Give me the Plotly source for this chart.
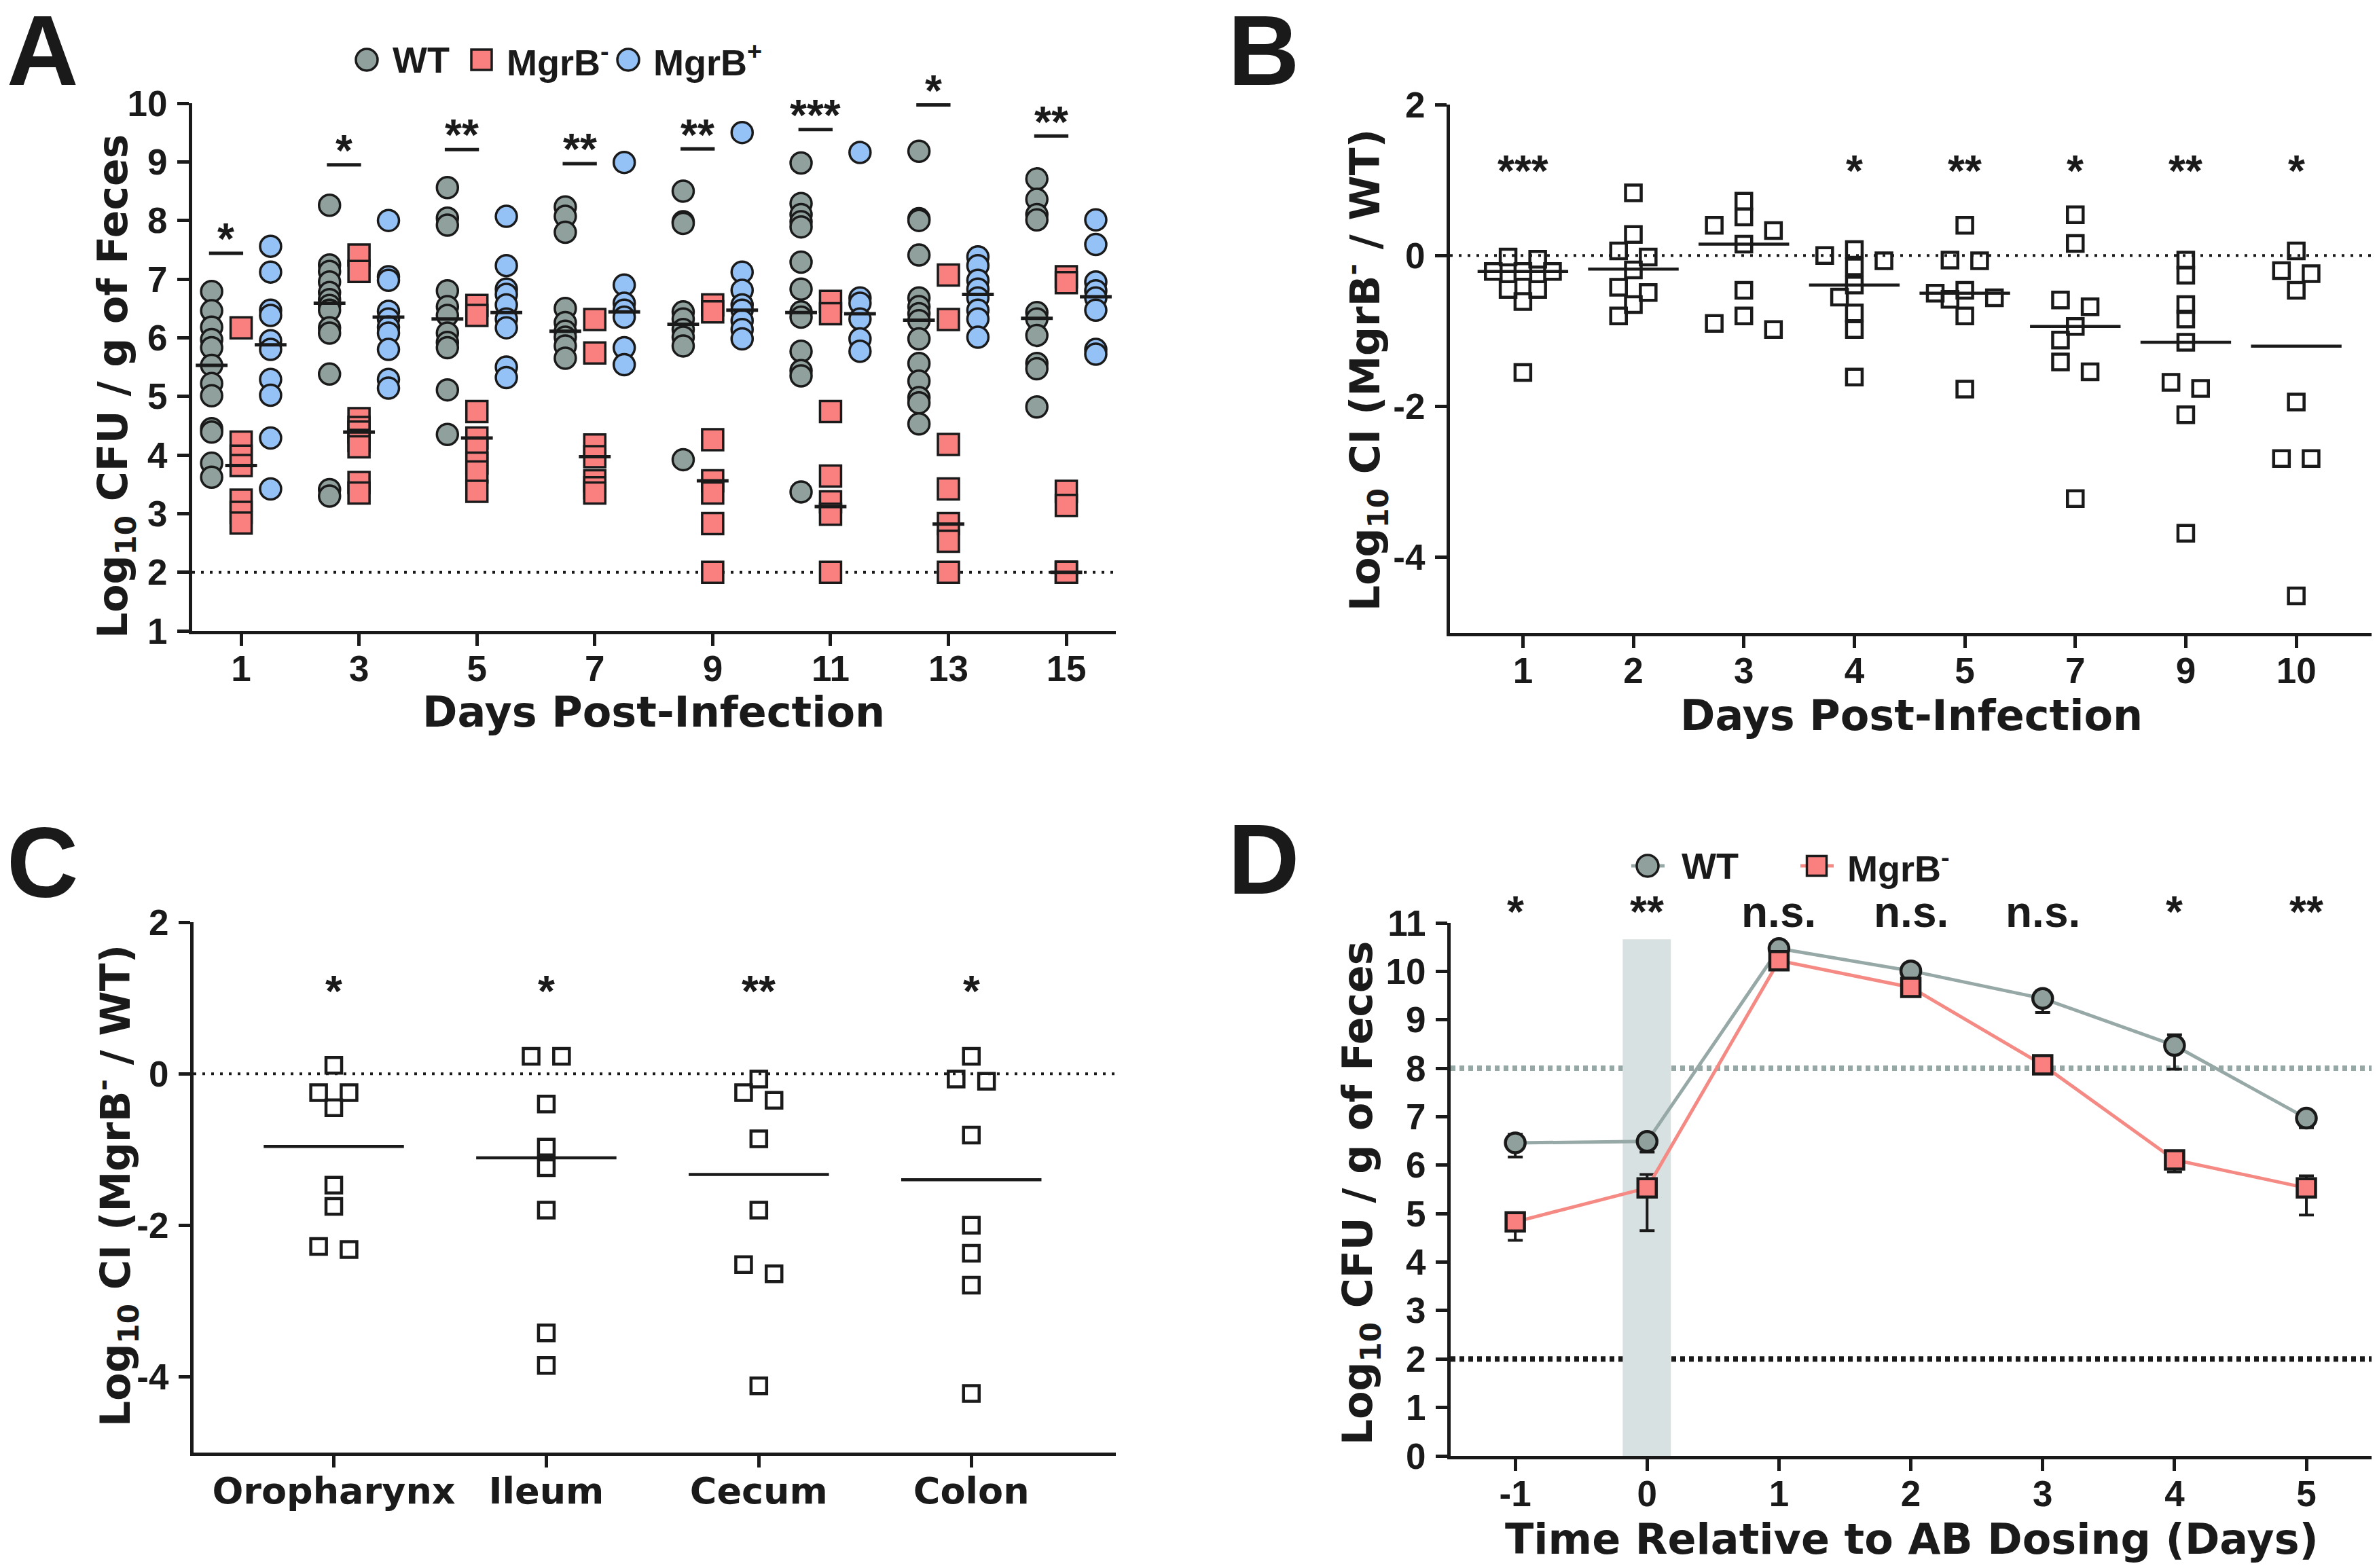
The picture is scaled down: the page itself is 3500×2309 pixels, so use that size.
import plotly.graph_objects as go

W, H = 3500, 2309
PAGE_OFFSET = 8  # default body margin of the html page
INK = "#1a1a1a"
WT_FILL = "#8fa09d"
NEG_FILL = "#fa8080"
POS_FILL = "#94c1f6"
WT_LINE = "#97a9a6"
NEG_LINE = "#f58a84"
BAND = "#d8e1e1"

# ---------------- Panel A data (Log10 CFU / g feces) ----------------
a_days = [1, 3, 5, 7, 9, 11, 13, 15]
a_wt = [
    [6.79, 6.46, 6.18, 5.97, 5.83, 5.53, 5.22, 5.01, 4.45, 4.39, 3.86, 3.62],
    [8.26, 7.24, 7.13, 6.95, 6.77, 6.65, 6.55, 6.47, 6.17, 6.08, 5.38, 3.41, 3.30],
    [8.56, 8.04, 7.92, 6.80, 6.53, 6.38, 6.08, 5.92, 5.83, 5.11, 4.35],
    [8.23, 8.07, 7.80, 6.50, 6.26, 6.11, 6.01, 5.86, 5.65],
    [8.50, 7.98, 7.95, 6.44, 6.32, 6.14, 6.01, 5.86, 3.92],
    [8.98, 8.29, 8.10, 7.98, 7.89, 7.29, 6.83, 6.44, 6.35, 5.77, 5.44, 5.35, 3.37],
    [9.18, 8.03, 8.00, 7.41, 6.68, 6.53, 6.41, 6.29, 5.98, 5.56, 5.26, 4.98, 4.89, 4.53],
    [8.71, 8.36, 8.10, 8.01, 6.43, 6.32, 6.04, 5.56, 5.47, 4.82],
]
a_neg = [
    [6.17, 4.22, 3.98, 3.82, 3.23, 3.02, 2.84],
    [7.41, 7.13, 4.62, 4.47, 4.39, 4.25, 4.14, 3.53, 3.35],
    [6.55, 6.38, 4.74, 4.29, 4.11, 3.86, 3.71, 3.38],
    [6.31, 5.74, 4.17, 3.97, 3.56, 3.44, 3.35],
    [6.56, 6.44, 4.26, 3.56, 3.35, 2.83, 2.00],
    [6.62, 6.41, 4.74, 3.64, 3.20, 2.99, 2.00],
    [7.07, 6.31, 4.18, 3.42, 2.83, 2.53, 2.00],
    [7.04, 6.94, 3.38, 3.14, 2.00, 2.00, 2.00],
]
a_pos = [
    [7.56, 7.12, 6.47, 6.38, 5.95, 5.80, 5.29, 5.02, 4.29, 3.42],
    [8.00, 7.04, 6.98, 6.45, 6.32, 6.18, 6.08, 5.80, 5.29, 5.14],
    [8.07, 7.23, 6.83, 6.74, 6.56, 6.32, 6.17, 5.50, 5.32],
    [8.99, 6.90, 6.59, 6.47, 6.35, 5.83, 5.54],
    [9.50, 7.12, 6.81, 6.56, 6.47, 6.29, 6.14, 5.98],
    [9.16, 6.68, 6.59, 6.32, 5.98, 5.77],
    [7.38, 7.23, 6.98, 6.83, 6.68, 6.47, 6.32, 6.01],
    [8.01, 7.59, 6.95, 6.80, 6.68, 6.47, 5.80, 5.72],
]
a_wt_median = [5.53, 6.59, 6.32, 6.11, 6.23, 6.43, 6.30, 6.33]
a_neg_median = [3.82, 4.39, 4.29, 3.97, 3.56, 3.12, 2.82, 2.00]
a_pos_median = [5.88, 6.35, 6.43, 6.44, 6.47, 6.41, 6.74, 6.70]
a_sig_y = [7.44, 8.95, 9.21, 8.97, 9.22, 9.55, 9.97, 9.44]
a_sig_text = ["*", "*", "**", "**", "**", "***", "*", "**"]
a_lod = 2

# ---------------- Panel B data (Log10 CI, MgrB- / WT) ----------------
b_days = ["1", "2", "3", "4", "5", "7", "9", "10"]
b_ci = [
    [-0.02, -0.05, -0.21, -0.21, -0.21, -0.45, -0.45, -0.61, -1.55],
    [0.83, 0.28, 0.06, -0.02, -0.19, -0.42, -0.49, -0.65, -0.80],
    [0.72, 0.51, 0.40, 0.33, 0.15, -0.46, -0.80, -0.90, -0.98],
    [0.08, 0.00, -0.07, -0.15, -0.39, -0.55, -0.76, -0.98, -1.61],
    [0.40, -0.06, -0.07, -0.46, -0.50, -0.56, -0.58, -0.80, -1.77],
    [0.54, 0.16, -0.59, -0.68, -0.94, -1.12, -1.41, -1.54, -3.22],
    [-0.06, -0.26, -0.65, -0.84, -1.15, -1.68, -1.76, -2.11, -3.68],
    [0.06, -0.20, -0.24, -0.46, -1.94, -2.69, -2.69, -4.51],
]
b_median = [-0.21, -0.18, 0.15, -0.39, -0.50, -0.94, -1.15, -1.20]
b_sig_text = ["***", "", "", "*", "**", "*", "**", "*"]
b_sig_y = 1.24

# ---------------- Panel C data (Log10 CI by site) ----------------
c_sites = ["Oropharynx", "Ileum", "Cecum", "Colon"]
c_ci = [
    [0.11, -0.25, -0.25, -0.45, -1.47, -1.75, -2.28, -2.32],
    [0.23, 0.23, -0.40, -0.97, -1.24, -1.80, -3.42, -3.85],
    [-0.07, -0.25, -0.35, -0.86, -1.80, -2.52, -2.64, -4.12],
    [0.23, -0.07, -0.10, -0.81, -2.00, -2.37, -2.79, -4.22],
]
c_median = [-0.96, -1.11, -1.33, -1.40]
c_sig_text = ["*", "*", "**", "*"]
c_sig_y = 1.21

# ---------------- Panel D data (mean, error bars) ----------------
d_time = [-1, 0, 1, 2, 3, 4, 5]
d_wt_mean = [6.46, 6.49, 10.47, 10.01, 9.44, 8.47, 6.97]
d_wt_err_plus = [0.18, 0.10, 0.05, 0.05, 0.16, 0.22, 0.05]
d_wt_err_minus = [0.29, 0.22, 0.05, 0.05, 0.29, 0.49, 0.20]
d_neg_mean = [4.83, 5.53, 10.22, 9.67, 8.07, 6.11, 5.53]
d_neg_err_plus = [0.18, 0.28, 0.05, 0.05, 0.05, 0.10, 0.25]
d_neg_err_minus = [0.38, 0.88, 0.05, 0.05, 0.05, 0.25, 0.56]
d_sig_text = ["*", "**", "n.s.", "n.s.", "n.s.", "*", "**"]
d_sig_y = 11.2
d_threshold = 8
d_lod = 2
d_dose_window = [-0.185, 0.18]
d_dose_top = 10.66

# ---------------- layout geometry (pixels) ----------------
A_X, A_Y = (283, 1643), (152, 929)
B_X, B_Y = (2135, 3495), (154, 932)
C_X, C_Y = (285, 1643), (1358, 2139)
D_X, D_Y = (2136, 3497), (1359, 2144)
A_RX, A_RY = [0.17, 15.84], [1, 10]
B_RX, B_RY = [-0.66, 7.7], [-5, 2]
C_RX, C_RY = [-0.66, 3.68], [-5, 2]
D_RX, D_RY = [-1.49, 5.52], [0, 11]


def fx(p):
    return (p - PAGE_OFFSET) / W


def fy(p):
    return 1 - (p - PAGE_OFFSET) / H


def xdom(px):
    return [fx(px[0]), fx(px[1])]


def ydom(py):
    return [fy(py[1]), fy(py[0])]


def swarm(vals, h, m, t, maxrow=3):
    """GraphPad-like horizontal spreading of points with similar values."""
    order = sorted(range(len(vals)), key=lambda i: -vals[i])
    rows = []
    for i in order:
        if rows and len(rows[-1]) < maxrow and vals[rows[-1][-1]] - vals[i] <= t:
            rows[-1].append(i)
        else:
            rows.append([i])
    offs = [0.0] * len(vals)
    placed = []
    for row in rows:
        n = len(row)
        ks = [0] if n == 1 else ([-1, 1] if n == 2 else [0, -2, 2])
        chosen = 0
        for shift in [0, -1, 1, -2, 2]:
            ok = True
            for i, k in zip(row, ks):
                for pv, pk in placed:
                    if abs(vals[i] - pv) < m and abs(k + shift - pk) < 1:
                        ok = False
            if ok:
                chosen = shift
                break
        for i, k in zip(row, ks):
            offs[i] = (k + chosen) * h
            placed.append((vals[i], k + chosen))
    return offs


def hlines(centers, ys, half):
    xs, yy = [], []
    for c, y in zip(centers, ys):
        xs += [c - half, c + half, None]
        yy += [y, y, None]
    return xs, yy


fig = go.Figure()

mline = dict(width=3.5, color=INK)

# ---- Panel A ----
groups = [(a_wt, -0.5, "circle", WT_FILL),
          (a_neg, 0.0, "square", NEG_FILL),
          (a_pos, 0.5, "circle", POS_FILL)]
for vals, off, sym, fill in groups:
    xs, ys = [], []
    for d, v in zip(a_days, vals):
        xs += [d + off] * len(v)
        ys += v
    fig.add_trace(go.Scatter(x=xs, y=ys, mode="markers", xaxis="x", yaxis="y",
                             marker=dict(symbol=sym, size=31, color=fill, line=mline),
                             showlegend=False, cliponaxis=False))
for off, med in [(-0.5, a_wt_median), (0.0, a_neg_median), (0.5, a_pos_median)]:
    xs, ys = hlines([d + off for d in a_days], med, 0.27)
    fig.add_trace(go.Scatter(x=xs, y=ys, mode="lines", xaxis="x", yaxis="y",
                             line=dict(color=INK, width=5), showlegend=False, cliponaxis=False))
xs, ys = hlines([d - 0.255 for d in a_days], a_sig_y, 0.29)
fig.add_trace(go.Scatter(x=xs, y=ys, mode="lines", xaxis="x", yaxis="y",
                         line=dict(color=INK, width=5), showlegend=False, cliponaxis=False))

# ---- Panel B ----
b_pxu_x = (B_X[1] - B_X[0]) / (B_RX[1] - B_RX[0])
b_pxu_y = (B_Y[1] - B_Y[0]) / (B_RY[1] - B_RY[0])
xs, ys = [], []
for i, v in enumerate(b_ci):
    offs = swarm(v, 21.8 / b_pxu_x, 21.0 / b_pxu_y, 14.5 / b_pxu_y)
    xs += [i + o for o in offs]
    ys += v
fig.add_trace(go.Scatter(x=xs, y=ys, mode="markers", xaxis="x2", yaxis="y2",
                         marker=dict(symbol="square-open", size=23, color=INK,
                                     line=dict(width=4.5, color=INK)),
                         showlegend=False, cliponaxis=False))
xs, ys = hlines(list(range(len(b_days))), b_median, 0.41)
fig.add_trace(go.Scatter(x=xs, y=ys, mode="lines", xaxis="x2", yaxis="y2",
                         line=dict(color=INK, width=4.5), showlegend=False))

# ---- Panel C ----
c_pxu_x = (C_X[1] - C_X[0]) / (C_RX[1] - C_RX[0])
c_pxu_y = (C_Y[1] - C_Y[0]) / (C_RY[1] - C_RY[0])
xs, ys = [], []
for i, v in enumerate(c_ci):
    offs = swarm(v, 22.4 / c_pxu_x, 21.0 / c_pxu_y, 14.5 / c_pxu_y)
    xs += [i + o for o in offs]
    ys += v
fig.add_trace(go.Scatter(x=xs, y=ys, mode="markers", xaxis="x3", yaxis="y3",
                         marker=dict(symbol="square-open", size=23, color=INK,
                                     line=dict(width=4.5, color=INK)),
                         showlegend=False, cliponaxis=False))
xs, ys = hlines(list(range(len(c_sites))), c_median, 0.33)
fig.add_trace(go.Scatter(x=xs, y=ys, mode="lines", xaxis="x3", yaxis="y3",
                         line=dict(color=INK, width=4.5), showlegend=False))

# ---- Panel D ----
fig.add_trace(go.Scatter(x=d_time, y=d_wt_mean, mode="lines+markers", xaxis="x4", yaxis="y4",
                         line=dict(color=WT_LINE, width=5),
                         marker=dict(symbol="circle", size=29, color=WT_FILL,
                                     line=dict(width=4.5, color=INK)),
                         error_y=dict(type="data", symmetric=False, array=d_wt_err_plus,
                                      arrayminus=d_wt_err_minus, color=INK, thickness=4, width=11),
                         showlegend=False, cliponaxis=False))
fig.add_trace(go.Scatter(x=d_time, y=d_neg_mean, mode="lines+markers", xaxis="x4", yaxis="y4",
                         line=dict(color=NEG_LINE, width=5),
                         marker=dict(symbol="square", size=27, color=NEG_FILL,
                                     line=dict(width=4.5, color=INK)),
                         error_y=dict(type="data", symmetric=False, array=d_neg_err_plus,
                                      arrayminus=d_neg_err_minus, color=INK, thickness=4, width=11),
                         showlegend=False, cliponaxis=False))

# ---------------- axes ----------------
TICKFONT = dict(family="Liberation Sans", size=53, color=INK, weight="bold")
CATFONT = dict(family="DejaVu Sans", size=54, color=INK, weight="bold")


def axis(dom, rng, anchor, **kw):
    d = dict(domain=dom, range=rng, anchor=anchor, showline=True, linewidth=5, linecolor=INK,
             ticks="outside", ticklen=17, tickwidth=5, tickcolor=INK, showgrid=False,
             zeroline=False, tickfont=TICKFONT, fixedrange=True, automargin=False)
    d.update(kw)
    return d


XSTAND = -12
layout = dict(
    width=W, height=H, margin=dict(l=0, r=0, t=0, b=0, pad=0, autoexpand=False),
    paper_bgcolor="white", plot_bgcolor="white", showlegend=False,
    xaxis=axis(xdom(A_X), A_RX, "y", tickvals=a_days, ticklabelstandoff=XSTAND),
    yaxis=axis(ydom(A_Y), A_RY, "x", dtick=1, tick0=0, ticklabelstandoff=4),
    xaxis2=axis(xdom(B_X), B_RX, "y2", tickvals=list(range(len(b_days))), ticktext=b_days,
                ticklabelstandoff=XSTAND),
    yaxis2=axis(ydom(B_Y), B_RY, "x2", tickvals=[2, 0, -2, -4], ticktext=["2", "0", "-2", "-4"],
                ticklabelstandoff=4),
    xaxis3=axis(xdom(C_X), C_RX, "y3", tickvals=list(range(len(c_sites))), ticktext=c_sites,
                tickfont=CATFONT, ticklabelstandoff=XSTAND),
    yaxis3=axis(ydom(C_Y), C_RY, "x3", tickvals=[2, 0, -2, -4], ticktext=["2", "0", "-2", "-4"],
                ticklabelstandoff=4),
    xaxis4=axis(xdom(D_X), D_RX, "y4", tickvals=d_time, ticktext=[str(t) for t in d_time],
                ticklabelstandoff=XSTAND),
    yaxis4=axis(ydom(D_Y), D_RY, "x4", dtick=1, tick0=0, ticklabelstandoff=4),
)

shapes = [
    dict(type="rect", xref="x4", yref="y4", x0=d_dose_window[0], x1=d_dose_window[1],
         y0=0, y1=d_dose_top, fillcolor=BAND, line=dict(width=0), layer="below"),
    dict(type="line", xref="x domain", yref="y", x0=0, x1=1, y0=a_lod, y1=a_lod,
         line=dict(color=INK, width=4, dash="4px,9px"), layer="below"),
    dict(type="line", xref="x2 domain", yref="y2", x0=0, x1=1, y0=0, y1=0,
         line=dict(color=INK, width=4, dash="4px,9px"), layer="below"),
    dict(type="line", xref="x3 domain", yref="y3", x0=0, x1=1, y0=0, y1=0,
         line=dict(color=INK, width=4, dash="4px,9px"), layer="below"),
    dict(type="line", xref="x4 domain", yref="y4", x0=0, x1=1, y0=d_threshold, y1=d_threshold,
         line=dict(color="#95a8a5", width=8, dash="7px,6px"), layer="below"),
    dict(type="line", xref="x4 domain", yref="y4", x0=0, x1=1, y0=d_lod, y1=d_lod,
         line=dict(color=INK, width=8, dash="7px,6px"), layer="below"),
]


def glyph(kind, cx, cy, size, fill):
    return dict(type=kind, xref="paper", yref="paper", xsizemode="pixel", ysizemode="pixel",
                xanchor=fx(cx), yanchor=fy(cy), x0=-size / 2, x1=size / 2,
                y0=-size / 2, y1=size / 2, fillcolor=fill, line=dict(color=INK, width=3.5))


# legend A
shapes += [glyph("circle", 540, 88, 32, WT_FILL), glyph("rect", 709, 88, 30, NEG_FILL),
           glyph("circle", 925, 88, 32, POS_FILL)]
# legend D
shapes += [
    dict(type="line", xref="paper", yref="paper", x0=fx(2402), x1=fx(2451), y0=fy(1275), y1=fy(1275),
         line=dict(color=WT_LINE, width=5)),
    dict(type="line", xref="paper", yref="paper", x0=fx(2651), x1=fx(2700), y0=fy(1275), y1=fy(1275),
         line=dict(color=NEG_LINE, width=5)),
    glyph("circle", 2426, 1275, 32, WT_FILL), glyph("rect", 2675, 1275, 29, NEG_FILL),
]
layout["shapes"] = shapes

STAR = dict(family="Liberation Sans", size=64, color=INK, weight="bold")
LEGF = dict(family="Liberation Sans", size=54, color=INK, weight="bold")
TITF = dict(family="DejaVu Sans", size=60, color=INK, weight="bold")
XTF = dict(family="DejaVu Sans", size=62, color=INK, weight="bold")
LETF = dict(family="Liberation Sans", size=146, color=INK, weight="bold")

ann = []
for d, y, t in zip(a_days, a_sig_y, a_sig_text):
    ann.append(dict(x=d - 0.255, y=y - 0.2, xref="x", yref="y", text=t, showarrow=False,
                    font=STAR, xanchor="center", yanchor="bottom"))
for i, t in enumerate(b_sig_text):
    if t:
        ann.append(dict(x=i, y=b_sig_y - 0.12, xref="x2", yref="y2", text=t, showarrow=False,
                        font=STAR, xanchor="center", yanchor="middle"))
for i, t in enumerate(c_sig_text):
    ann.append(dict(x=i, y=c_sig_y - 0.12, xref="x3", yref="y3", text=t, showarrow=False,
                    font=STAR, xanchor="center", yanchor="middle"))
# D labels sit above the axis range, so place them vertically in paper space
d_px_per_unit = (D_Y[1] - D_Y[0]) / (D_RY[1] - D_RY[0])
d_sig_py = D_Y[1] - (d_sig_y - D_RY[0]) * d_px_per_unit
for x, t in zip(d_time, d_sig_text):
    ann.append(dict(x=x, y=fy(d_sig_py - 2), xref="x4", yref="paper", text=t, showarrow=False,
                    font=STAR, xanchor="center", yanchor="middle"))


def paper_text(px, py, text, font, xanchor="center", yanchor="middle", angle=0):
    return dict(x=fx(px), y=fy(py), xref="paper", yref="paper", text=text, showarrow=False,
                font=font, xanchor=xanchor, yanchor=yanchor, textangle=angle)


ytitle_cfu = "Log<sub>10</sub> CFU / g of Feces"
ytitle_ci = "Log<sub>10</sub> CI (MgrB<sup>-</sup> / WT)"
ann += [
    paper_text(170, 569, ytitle_cfu, TITF, angle=-90),
    paper_text(2010, 545, ytitle_ci, TITF, angle=-90),
    paper_text(170, 1746, ytitle_ci, TITF, angle=-90),
    paper_text(2003, 1757, ytitle_cfu, TITF, angle=-90),
    paper_text(962, 1049, "Days Post-Infection", XTF),
    paper_text(2814, 1053, "Days Post-Infection", XTF),
    paper_text(2815, 2266, "Time Relative to AB Dosing (Days)", XTF),
    paper_text(576, 88, "WT", LEGF, xanchor="left"),
    paper_text(744, 88, "MgrB<sup>-</sup>", LEGF, xanchor="left"),
    paper_text(960, 88, "MgrB<sup>+</sup>", LEGF, xanchor="left"),
    paper_text(2474, 1275, "WT", LEGF, xanchor="left"),
    paper_text(2718, 1275, "MgrB<sup>-</sup>", LEGF, xanchor="left"),
]
for letter, lx, cy in [("A", 8, 74), ("B", 1806, 74), ("C", 8, 1270), ("D", 1806, 1265)]:
    ann.append(paper_text(lx, cy, letter, LETF, xanchor="left"))
layout["annotations"] = ann

fig.update_layout(**layout)
fig.write_html("out.html")
